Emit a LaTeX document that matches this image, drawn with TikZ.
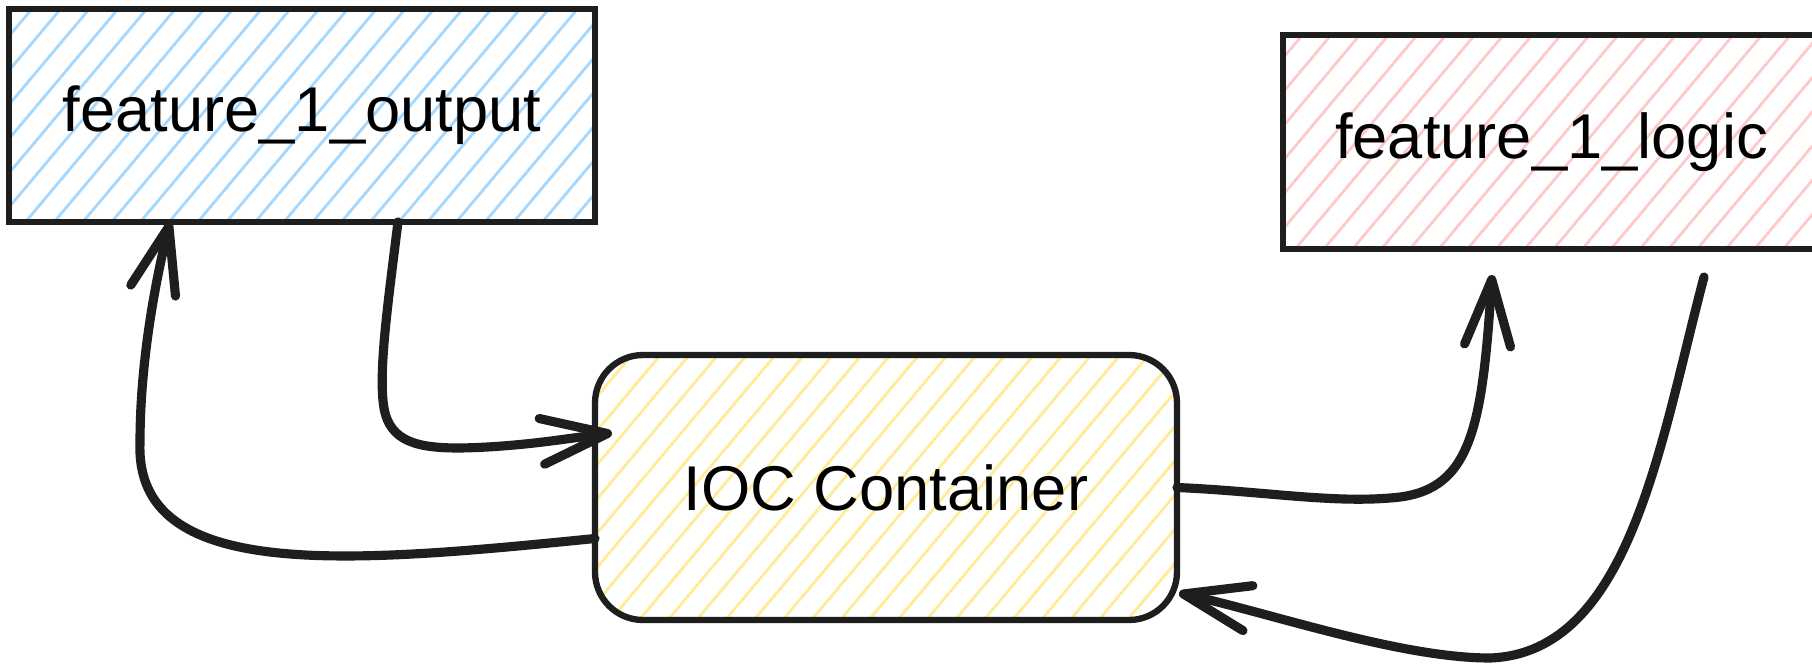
\documentclass[tikz,border=0pt]{standalone}
\usepackage{fontspec}
\setmainfont{Liberation Sans}
\usetikzlibrary{arrows.meta,patterns.meta}
\definecolor{hatchblue}{HTML}{A5D8FF}
\definecolor{hatchred}{HTML}{FFC9C9}
\definecolor{hatchyellow}{HTML}{FFEC99}
\definecolor{ink}{HTML}{1E1E1E}

\begin{document}
\begin{tikzpicture}[
    box/.style={draw=ink, line width=1.6pt, inner sep=0pt, outer sep=0pt, font=\fontsize{18}{21}\selectfont},
    hatch/.style={pattern={Lines[angle=50, distance=2.2mm, line width=0.8pt]}, pattern color=#1},
    link/.style={draw=ink, line width=2.6pt, line cap=round, line join=round},
    arrowend/.style={-{Straight Barb[length=6.6mm, width=4.6mm, round]}}
]
    \path[use as bounding box, fill=white] (0,0) rectangle (18.12,6.63);
    % Блоки
    \node[box, hatch=hatchblue, minimum width=5.86cm, minimum height=2.13cm] (output) at (3.02,5.475) {feature\_1\_output};
    \node[box, hatch=hatchred, minimum width=5.37cm, minimum height=2.14cm] (logic) at (15.515,5.21) {feature\_1\_logic};
    \node[box, hatch=hatchyellow, line width=1.8pt, rounded corners=4.8mm, minimum width=5.82cm, minimum height=2.65cm] (ioc) at (8.86,1.755) {IOC Container};
    % Стрелки слева
    \draw[link, arrowend] ([yshift=-5.1mm]ioc.west) .. controls (3.5,1.0) and (1.35,0.8) .. (1.40,2.2) .. controls (1.40,3.0) and (1.55,3.8) .. ([xshift=-13.2mm]output.south);
    \draw[link, arrowend] ([xshift=9.6mm]output.south) .. controls (3.88,3.6) and (3.78,2.9) .. (3.84,2.55) .. controls (3.9,2.2) and (4.2,2.15) .. (4.6,2.15) .. controls (5.2,2.16) and (5.7,2.25) .. ([xshift=1.7mm, yshift=5.45mm]ioc.west);
    % Стрелки справа
    \draw[link, arrowend] (ioc.east) .. controls (12.6,1.72) and (13.3,1.6) .. (13.9,1.65) .. controls (14.7,1.7) and (14.82,2.3) .. ([xshift=-5.95mm, yshift=-2.6mm]logic.south);
    \draw[link, arrowend] ([xshift=15.25mm, yshift=-2.8mm]logic.south) .. controls (16.6,2.2) and (16.3,0.1) .. (14.9,0.05) .. controls (14.0,0.05) and (12.7,0.5) .. ([xshift=0.2mm, yshift=-10.55mm]ioc.east);
\end{tikzpicture}
\end{document}
